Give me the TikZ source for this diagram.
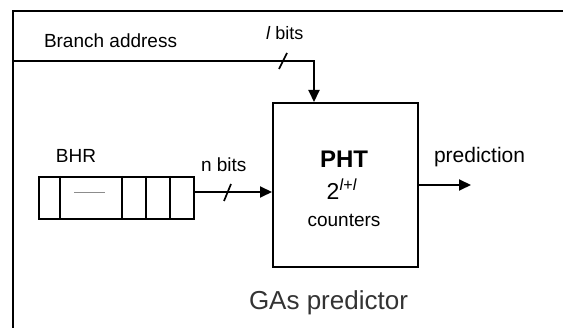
\documentclass[tikz,border=0pt]{standalone}
\usepackage{fontspec}
\setmainfont{Liberation Sans}
\usetikzlibrary{arrows.meta}
\begin{document}
\begin{tikzpicture}[x=1pt,y=-1pt,line width=2pt,
  >={Triangle[length=12pt,width=11pt]},
  lbl/.style={font=\fontsize{19}{21}\selectfont,inner sep=0pt,text=black},
  wirecut/.style={line width=1.7pt}]
\useasboundingbox (0,0) rectangle (563,328);
% outer frame (left and top edges)
\coordinate (fbl) at (13,328);
\coordinate (ftl) at (13,11);
\coordinate (ftr) at (563,11);
\draw[line width=2.4pt] (fbl) -- (ftl) -- (ftr);
% PHT box
\node[draw,minimum width=145pt,minimum height=164pt,anchor=north west,inner sep=0pt] (pht) at (272,102) {};
\node[lbl,font=\fontsize{24}{26}\selectfont\bfseries,anchor=base] (phtt) at (344,168) {PHT};
\node[lbl,font=\fontsize{23}{25}\selectfont,anchor=base] (phtsize) at (342,200) {2\textsuperscript{\textit{l}+\textit{l}}};
\node[lbl,anchor=base] (phtc) at (344,227) {counters};
% BHR register
\node[draw,minimum width=155pt,minimum height=42pt,anchor=north west,inner sep=0pt] (bhr) at (38,176) {};
\foreach \xx in {60,122,146,170} \draw (\xx,176) -- (\xx,218);
\draw[line width=0.8pt,black!45] (74,192) -- (105,192);
\node[lbl,anchor=base west] (bhrl) at (55,163) {BHR};
% branch address wire
\coordinate (ba) at (13,61);
\coordinate (bc) at (314,61);
\draw[->] (ba) -- (bc) -- (bc |- pht.north);
\node[lbl,anchor=base west] (bal) at (43,48) {Branch address};
\node[lbl,font=\fontsize{18}{20}\selectfont,anchor=base west] (lbits) at (265,40) {\textit{l} bits};
\coordinate (s1a) at (279,69);
\coordinate (s1b) at (287,53);
\draw[wirecut] (s1a) -- (s1b);
% history wire
\coordinate (bo) at (193,192);
\draw[->] (bo) -- (bo -| pht.west);
\node[lbl,anchor=base west] (nbits) at (200,172) {n bits};
\coordinate (s2a) at (224,201);
\coordinate (s2b) at (231,184);
\draw[wirecut] (s2a) -- (s2b);
% prediction
\coordinate (po) at (417,185);
\coordinate (pe) at (471,185);
\draw[->] (po) -- (pe);
\node[lbl,font=\fontsize{21}{23}\selectfont,anchor=base west] (pred) at (433,163) {prediction};
% caption
\node[lbl,font=\fontsize{26}{28}\selectfont,anchor=base west,text=black!80] (cap) at (248,310) {GAs predictor};
\end{tikzpicture}
\end{document}
